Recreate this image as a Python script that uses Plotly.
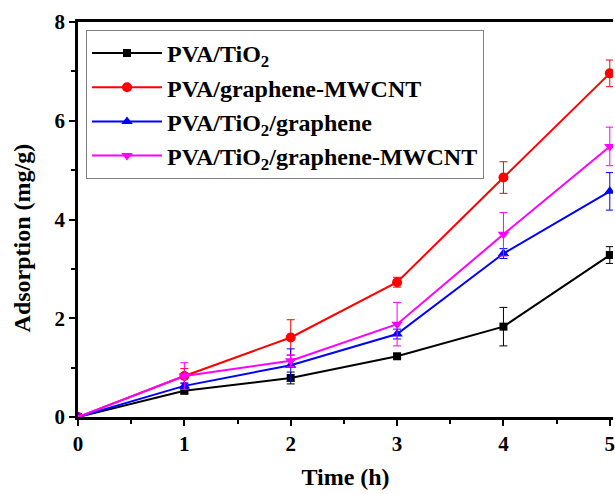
import plotly.graph_objects as go

time_h = [0, 1, 2, 3, 4, 5]

names = ["PVA/TiO<sub>2</sub>", "PVA/graphene-MWCNT",
         "PVA/TiO<sub>2</sub>/graphene", "PVA/TiO<sub>2</sub>/graphene-MWCNT"]

pva_tio2 = [0, 0.53, 0.79, 1.23, 1.83, 3.28]
pva_tio2_err = [0, 0.05, 0.12, 0.05, 0.39, 0.17]

pva_g_mwcnt = [0, 0.83, 1.61, 2.73, 4.85, 6.96]
pva_g_mwcnt_err = [0, 0.15, 0.36, 0.1, 0.32, 0.27]

pva_tio2_g = [0, 0.63, 1.05, 1.68, 3.31, 4.57]
pva_tio2_g_err = [0, 0.06, 0.33, 0.1, 0.1, 0.38]

pva_tio2_g_mwcnt = [0, 0.83, 1.14, 1.88, 3.70, 5.48]
pva_tio2_g_mwcnt_err = [0, 0.27, 0.12, 0.44, 0.44, 0.39]

series = [pva_tio2, pva_g_mwcnt, pva_tio2_g, pva_tio2_g_mwcnt]
errors = [pva_tio2_err, pva_g_mwcnt_err, pva_tio2_g_err, pva_tio2_g_mwcnt_err]
colors = ["#000000", "#ff0000", "#0000ff", "#ff00ff"]
symbols = ["square", "circle", "triangle-up", "triangle-down"]
sizes = [8, 10, 10, 10]

font_family = "Liberation Serif, Times New Roman, serif"

fig = go.Figure()
for nm, ys, es, c, s, sz in zip(names, series, errors, colors, symbols, sizes):
    fig.add_trace(go.Scatter(
        x=time_h, y=ys, name=nm, mode="lines+markers",
        line=dict(color=c, width=2),
        marker=dict(symbol=s, size=sz, color=c),
        error_y=dict(type="data", array=es, visible=True, color=c,
                     thickness=1, width=4),
    ))

fig.update_layout(
    width=615, height=494,
    margin=dict(l=78, r=0, t=22, b=77),
    plot_bgcolor="white", paper_bgcolor="white",
    font=dict(family=font_family, size=20, color="black", weight="bold"),
    showlegend=True,
    legend=dict(x=0.015, y=0.98, xanchor="left", yanchor="top",
                bordercolor="#808080", borderwidth=1,
                bgcolor="rgba(255,255,255,0)",
                font=dict(family=font_family, size=24, color="black", weight="bold"),
                itemwidth=70, tracegroupgap=0),
    xaxis=dict(range=[0, 5.03], tickvals=[0, 1, 2, 3, 4, 5],
               ticklabeloverflow="allow",
               showline=True, linecolor="black", linewidth=2.5, mirror=True,
               ticks="outside", ticklen=6, tickwidth=2, tickcolor="black",
               minor=dict(dtick=0.5, ticks="outside", ticklen=4, tickwidth=2, tickcolor="black"),
               showgrid=False, zeroline=False,
               title=dict(text="Time (h)", standoff=14,
                          font=dict(family=font_family, size=24, weight="bold")),
               tickfont=dict(family=font_family, size=21, weight="bold")),
    yaxis=dict(range=[0, 8], tickvals=[0, 2, 4, 6, 8],
               showline=True, linecolor="black", linewidth=2.5,
               ticks="outside", ticklen=6, tickwidth=2, tickcolor="black",
               minor=dict(dtick=1, ticks="outside", ticklen=4, tickwidth=2, tickcolor="black"),
               showgrid=False, zeroline=False,
               tickfont=dict(family=font_family, size=21, weight="bold")),
    annotations=[dict(text="Adsorption (mg/g)", textangle=-90,
                      xref="paper", yref="paper", x=-0.104, y=0.453,
                      xanchor="center", yanchor="middle", showarrow=False,
                      font=dict(family=font_family, size=24, weight="bold", color="black"))],
)

fig.write_html("out.html")
